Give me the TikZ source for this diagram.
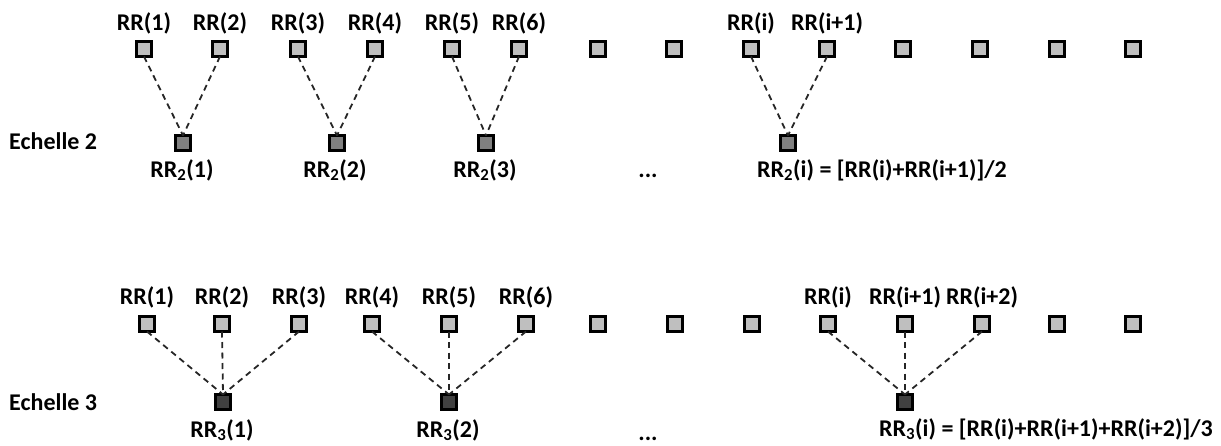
\documentclass[tikz,border=0pt]{standalone}
\usepackage{fontspec}
\setmainfont{Carlito}
\begin{document}
\begin{tikzpicture}[x=1pt,y=-1pt,
  sq/.style={draw=black,line width=3pt,minimum size=15pt,inner sep=0pt,outer sep=0pt},
  sqA/.style={sq,fill=black!25},
  sqB/.style={sq,fill=black!50},
  sqC/.style={sq,fill=black!75},
  lnk/.style={line width=1.8pt,dash pattern=on 6pt off 4.5pt,black!85},
  lab/.style={font=\fontsize{24}{28}\selectfont\bfseries,inner sep=0pt,anchor=base}]
\useasboundingbox (0,0) rectangle (1221,445);
% ---------- Echelle 2 ----------
\foreach \x [count=\i] in {144,220,298,375,452,519,598,674,751,827,903,980,1057,1133}
  \node[sqA] (t2-\i) at (\x,49) {};
\foreach \x [count=\i] in {183,337,486,788}
  \node[sqB] (b2-\i) at (\x,143) {};
\foreach \i/\t in {1/1,2/2,3/3,4/4,5/5,6/6,9/i,10/i+1}
  \node[lab] (lt2-\i) at ([yshift=19pt]t2-\i.center) {RR(\t)};
\node[lab,anchor=base west] (ech2) at (9,149) {Echelle 2};
\node[lab] (l2-1) at (182,177) {RR\textsubscript{2}(1)};
\node[lab] (l2-2) at (335,177) {RR\textsubscript{2}(2)};
\node[lab] (l2-3) at (485,177) {RR\textsubscript{2}(3)};
\node[lab] (dots2) at (648,177) {...};
\node[lab,anchor=base west] (l2-4) at (757,177) {RR\textsubscript{2}(i) = [RR(i)+RR(i+1)]/2};
\foreach \a/\b in {1/1,2/1,3/2,4/2,5/3,6/3,9/4,10/4}
  \draw[lnk] (t2-\a.south) -- (b2-\b.north);
% ---------- Echelle 3 ----------
\foreach \x [count=\i] in {147,222,299,372,449,526,598,675,752,828,905,982,1057,1133}
  \node[sqA] (t3-\i) at (\x,324) {};
\foreach \x [count=\i] in {223,449,905}
  \node[sqC] (b3-\i) at (\x,402) {};
\foreach \i/\t in {1/1,2/2,3/3,4/4,5/5,6/6,10/i,11/i+1,12/i+2}
  \node[lab] (lt3-\i) at ([yshift=20pt]t3-\i.center) {RR(\t)};
\node[lab,anchor=base west] (ech3) at (9,410) {Echelle 3};
\node[lab] (l3-1) at (222,437) {RR\textsubscript{3}(1)};
\node[lab] (l3-2) at (448,437) {RR\textsubscript{3}(2)};
\node[lab] (dots3) at (648,440) {...};
\node[lab,anchor=base west] (l3-3) at (879,436) {RR\textsubscript{3}(i) = [RR(i)+RR(i+1)+RR(i+2)]/3};
\foreach \a/\b in {1/1,2/1,3/1,4/2,5/2,6/2,10/3,11/3,12/3}
  \draw[lnk] (t3-\a.south) -- (b3-\b.north);
\end{tikzpicture}
\end{document}
